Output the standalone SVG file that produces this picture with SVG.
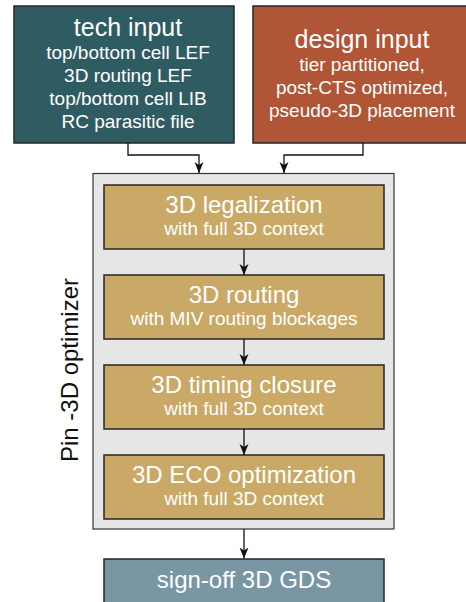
<svg xmlns="http://www.w3.org/2000/svg" width="466" height="602" viewBox="0 0 466 602">
<style>
text{font-family:"Liberation Sans",Arial,sans-serif;fill:#ffffff;text-anchor:middle}
.t{font-size:24px}
.tt{font-size:25px}
.s{font-size:19px}
.box{stroke:#262626;stroke-width:1.5}
.gold{fill:#c9a965}
.conn{fill:none;stroke:#111;stroke-width:1.3}
</style>
<defs>
<marker id="ah" markerUnits="userSpaceOnUse" markerWidth="12" markerHeight="12" viewBox="0 0 12 12" refX="11" refY="6" orient="auto">
<path d="M0,1.5 L11,6 L0,10.5 L3,6 z" fill="#111"/>
</marker>
</defs>
<rect width="466" height="602" fill="#ffffff"/>
<g id="tech-input">
<rect class="box" x="14" y="6" width="220" height="137" fill="#2f5c62"/>
<text class="tt" x="128" y="36">tech input</text>
<text class="s" x="128" y="59">top/bottom cell LEF</text>
<text class="s" x="128" y="82">3D routing LEF</text>
<text class="s" x="128" y="105">top/bottom cell LIB</text>
<text class="s" x="128" y="128">RC parasitic file</text>
</g>
<g id="design-input">
<rect class="box" x="253" y="6" width="220" height="137" fill="#b05536"/>
<text class="tt" x="362" y="48">design input</text>
<text class="s" x="362" y="71">tier partitioned,</text>
<text class="s" x="362" y="94">post-CTS optimized,</text>
<text class="s" x="362" y="117">pseudo-3D placement</text>
</g>
<g id="optimizer">
<rect x="93" y="173.5" width="301" height="355.5" fill="#e6e6e6" stroke="#333" stroke-width="1.2"/>
<text x="78" y="370" transform="rotate(-90 78 370)" style="font-size:24px;fill:#111">Pin -3D optimizer</text>
</g>
<g id="legalization">
<rect class="box gold" x="104" y="185" width="280" height="64"/>
<text class="t" x="244" y="213">3D legalization</text>
<text class="s" x="244" y="235">with full 3D context</text>
</g>
<g id="routing">
<rect class="box gold" x="104" y="275" width="280" height="64"/>
<text class="t" x="244" y="303">3D routing</text>
<text class="s" x="244" y="325">with MIV routing blockages</text>
</g>
<g id="timing">
<rect class="box gold" x="104" y="365" width="280" height="64"/>
<text class="t" x="244" y="393">3D timing closure</text>
<text class="s" x="244" y="415">with full 3D context</text>
</g>
<g id="eco">
<rect class="box gold" x="104" y="455" width="280" height="64"/>
<text class="t" x="244" y="483">3D ECO optimization</text>
<text class="s" x="244" y="505">with full 3D context</text>
</g>
<g id="signoff">
<rect class="box" x="104" y="559" width="280" height="50" fill="#7896a3"/>
<text class="t" x="244" y="588">sign-off 3D GDS</text>
</g>
<g id="connectors">
<path class="conn" d="M128,143 V155 H199 V173" marker-end="url(#ah)"/>
<path class="conn" d="M363,143 V155 H284 V173" marker-end="url(#ah)"/>
<path class="conn" d="M244,249 V275" marker-end="url(#ah)"/>
<path class="conn" d="M244,339 V365" marker-end="url(#ah)"/>
<path class="conn" d="M244,429 V455" marker-end="url(#ah)"/>
<path class="conn" d="M244,529 V558.5" marker-end="url(#ah)"/>
</g>
</svg>
